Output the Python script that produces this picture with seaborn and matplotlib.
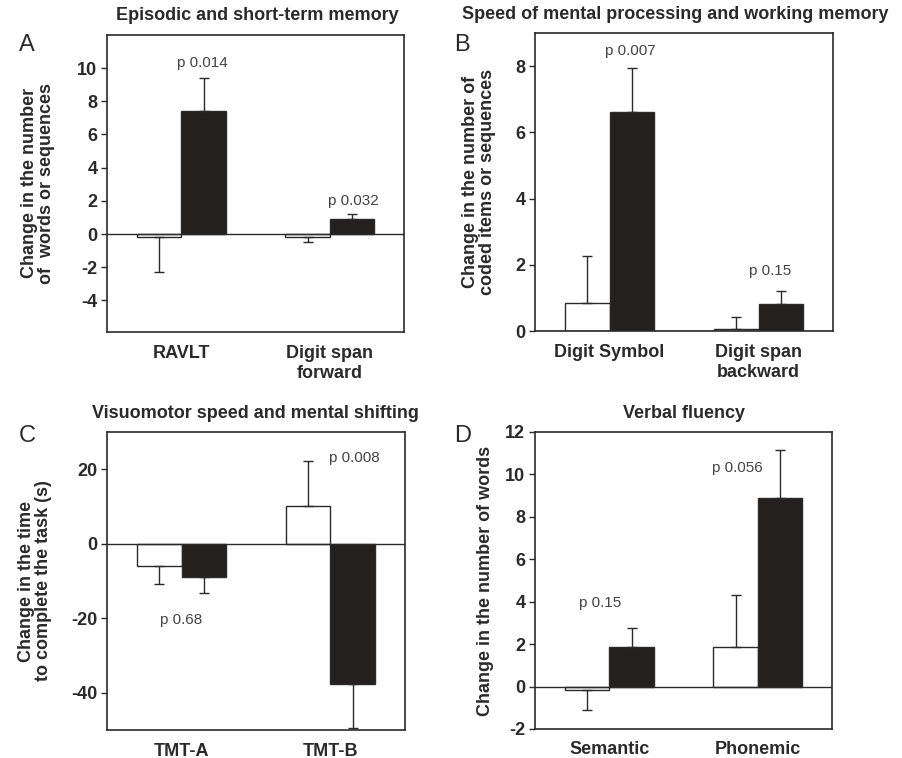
import numpy as np
import pandas as pd
import matplotlib
matplotlib.use("Agg")
import matplotlib.pyplot as plt
import seaborn as sns

# ---- data -------------------------------------------------------------
groups = ["Control", "Intervention"]

a_tests = ["RAVLT", "Digit span\nforward"]
a_control = [-0.2, -0.15]
a_control_sem = [2.06, 0.35]
a_interv = [7.4, 0.9]
a_interv_sem = [2.0, 0.32]
a_pvals = ["p 0.014", "p 0.032"]
a_p_y = [10.3, 2.0]

b_tests = ["Digit Symbol", "Digit span\nbackward"]
b_control = [0.85, 0.05]
b_control_sem = [1.42, 0.37]
b_interv = [6.6, 0.83]
b_interv_sem = [1.35, 0.37]
b_pvals = ["p 0.007", "p 0.15"]
b_p_y = [8.45, 1.82]

c_tests = ["TMT-A", "TMT-B"]
c_control = [-6.1, 10.1]
c_control_sem = [4.6, 12.0]
c_interv = [-8.8, -37.6]
c_interv_sem = [4.3, 11.8]
c_pvals = ["p 0.68", "p 0.008"]
c_p_y = [-20.5, 23.0]

d_tests = ["Semantic", "Phonemic"]
d_control = [-0.15, 1.87]
d_control_sem = [0.95, 2.45]
d_interv = [1.87, 8.9]
d_interv_sem = [0.88, 2.27]
d_pvals = ["p 0.15", "p 0.056"]
d_p_y = [3.95, 10.3]

# ---- style ------------------------------------------------------------
sns.set_style("white")
plt.rcParams["font.family"] = ["Liberation Sans", "DejaVu Sans"]
INK = "#2a2a2a"
BAR_BLACK = "#231f20"
FS = 13

fig = plt.figure(figsize=(9.03, 7.58), dpi=100)


def panel(rect, tests, ctrl, ctrl_sem, intv, intv_sem, pvals, p_y, p_x_off,
          ylim, yticks, title, title_x, letter, letter_xy, ylabel, ylabel_x):
    ax = fig.add_axes(rect)
    df = pd.DataFrame({
        "test": tests * 2,
        "group": [groups[0]] * len(tests) + [groups[1]] * len(tests),
        "change": list(ctrl) + list(intv),
    })
    sns.barplot(data=df, x="test", y="change", hue="group", order=tests,
                hue_order=groups, palette=["white", BAR_BLACK], width=0.6,
                errorbar=None, edgecolor=INK, linewidth=1.0, legend=False,
                ax=ax)
    # one-sided error bars pointing away from zero
    for cont, vals, sems in zip(ax.containers, [ctrl, intv],
                                [ctrl_sem, intv_sem]):
        xs = [p.get_x() + p.get_width() / 2 for p in cont.patches]
        lo = [s if v < 0 else 0 for v, s in zip(vals, sems)]
        hi = [s if v >= 0 else 0 for v, s in zip(vals, sems)]
        ax.errorbar(xs, vals, yerr=[lo, hi], fmt="none", ecolor=INK,
                    elinewidth=1.0, capsize=3.6, capthick=1.0, zorder=1)
    ax.axhline(0, color=INK, lw=1.0, zorder=3)
    ax.set_xlim(-0.5, 1.5)
    ax.set_ylim(*ylim)
    ax.set_yticks(yticks)
    ax.set_yticklabels([str(t) for t in yticks], fontweight="bold",
                       fontsize=FS, color=INK)
    ax.set_xticks(range(len(tests)))
    ax.set_xticklabels(tests, fontweight="bold", fontsize=FS, color=INK,
                       linespacing=1.3)
    ax.tick_params(axis="x", length=0, pad=9)
    ax.tick_params(axis="y", direction="out", length=4, width=1.0,
                   color=INK, left=True, pad=3)
    ax.set_xlabel("")
    ax.set_ylabel(ylabel, fontweight="bold", fontsize=FS, color=INK,
                  linespacing=1.0)
    ax.yaxis.set_label_coords(ylabel_x, 0.5)
    for sp in ax.spines.values():
        sp.set_visible(True)
        sp.set_color(INK)
        sp.set_linewidth(1.2)
    for i, (txt, y) in enumerate(zip(pvals, p_y)):
        ax.text(i + p_x_off[i], y, txt, ha="center", va="center",
                fontsize=11, color="#444444")
    fig.text(title_x, rect[1] + rect[3] + 0.025, title, ha="center",
             va="center", fontweight="bold", fontsize=FS, color=INK)
    fig.text(letter_xy[0], letter_xy[1], letter, ha="center", va="center",
             fontsize=17, color=INK)
    return ax


panel([0.1185, 0.562, 0.329, 0.392], a_tests, a_control, a_control_sem,
      a_interv, a_interv_sem, a_pvals, a_p_y, [0.14, 0.16],
      (-5.9, 12), [-4, -2, 0, 2, 4, 6, 8, 10],
      "Episodic and short-term memory", 0.285, "A", (0.030, 0.940),
      "Change in the number\nof  words or sequences", -0.175)

panel([0.5925, 0.5633, 0.330, 0.3932], b_tests, b_control, b_control_sem,
      b_interv, b_interv_sem, b_pvals, b_p_y, [0.14, 0.08],
      (0, 9), [0, 2, 4, 6, 8],
      "Speed of mental processing and working memory", 0.748, "B",
      (0.512, 0.940),
      "Change in the number of\ncoded items or sequences", -0.13)

panel([0.1185, 0.0369, 0.330, 0.3932], c_tests, c_control, c_control_sem,
      c_interv, c_interv_sem, c_pvals, c_p_y, [0.0, 0.16],
      (-50, 30), [-40, -20, 0, 20],
      "Visuomotor speed and mental shifting", 0.283, "C", (0.030, 0.425),
      "Change in the time\nto complete the task (s)", -0.183)

panel([0.5925, 0.0383, 0.329, 0.3918], d_tests, d_control, d_control_sem,
      d_interv, d_interv_sem, d_pvals, d_p_y, [-0.06, -0.14],
      (-2, 12), [-2, 0, 2, 4, 6, 8, 10, 12],
      "Verbal fluency", 0.757, "D", (0.512, 0.425),
      "Change in the number of words", -0.138)

fig.savefig("out.png", dpi=100)
